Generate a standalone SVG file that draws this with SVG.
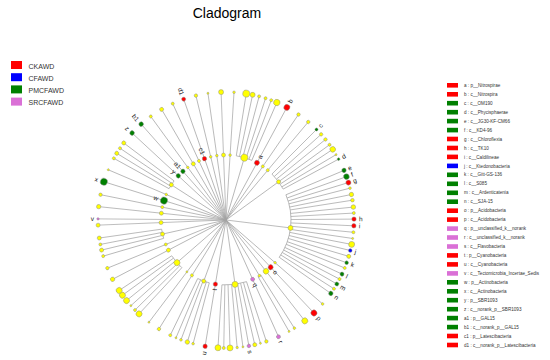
<svg xmlns="http://www.w3.org/2000/svg" width="550" height="360" viewBox="0 0 550 360">
<style>
text{font-family:"Liberation Sans",Arial,sans-serif}
.ln{stroke:#a3a3a3;stroke-width:.7;fill:none}
.Y{fill:#ffff00;stroke:#8a8a8a;stroke-width:.45}
.R{fill:#ff0000;stroke:#8a8a8a;stroke-width:.45}
.G{fill:#008000;stroke:#8a8a8a;stroke-width:.45}
.B{fill:#0000ff;stroke:#8a8a8a;stroke-width:.45}
.P{fill:#da70d6;stroke:#8a8a8a;stroke-width:.45}
.lb{font-size:6.5px;fill:#222}
.lg{font-size:7px;fill:#333}
.lt{font-size:4.6px;fill:#333}
</style>
<rect width="550" height="360" fill="#fff"/>
<text x="227" y="18" font-size="14" text-anchor="middle" fill="#000">Cladogram</text>

<g id="legend-groups">
<rect x="11" y="61" width="11" height="8" fill="#ff0000"/><text class="lg" x="28.5" y="68.5">CKAWD</text>
<rect x="11" y="73.2" width="11" height="8" fill="#0000ff"/><text class="lg" x="28.5" y="80.7">CFAWD</text>
<rect x="11" y="85.4" width="11" height="8" fill="#008000"/><text class="lg" x="28.5" y="92.9">PMCFAWD</text>
<rect x="11" y="97.6" width="11" height="8" fill="#da70d6"/><text class="lg" x="28.5" y="105.1">SRCFAWD</text>
</g>

<g id="legend-taxa">
<rect x="447" y="83" width="11" height="4.6" fill="#ff0000"/><text class="lt" x="464" y="86.9">a : p__Nitrospirae</text>
<rect x="447" y="92" width="11" height="4.6" fill="#ff0000"/><text class="lt" x="464" y="95.9">b : c__Nitrospira</text>
<rect x="447" y="100.9" width="11" height="4.6" fill="#008000"/><text class="lt" x="464" y="104.8">c : c__OM190</text>
<rect x="447" y="109.9" width="11" height="4.6" fill="#008000"/><text class="lt" x="464" y="113.8">d : c__Phycisphaerae</text>
<rect x="447" y="118.8" width="11" height="4.6" fill="#008000"/><text class="lt" x="464" y="122.7">e : c__JG30-KF-CM66</text>
<rect x="447" y="127.8" width="11" height="4.6" fill="#008000"/><text class="lt" x="464" y="131.7">f : c__KD4-96</text>
<rect x="447" y="136.7" width="11" height="4.6" fill="#ff0000"/><text class="lt" x="464" y="140.6">g : c__Chloroflexia</text>
<rect x="447" y="145.7" width="11" height="4.6" fill="#ff0000"/><text class="lt" x="464" y="149.6">h : c__TK10</text>
<rect x="447" y="154.6" width="11" height="4.6" fill="#ff0000"/><text class="lt" x="464" y="158.5">i : c__Caldilineae</text>
<rect x="447" y="163.6" width="11" height="4.6" fill="#0000ff"/><text class="lt" x="464" y="167.5">j : c__Ktedonobacteria</text>
<rect x="447" y="172.5" width="11" height="4.6" fill="#008000"/><text class="lt" x="464" y="176.4">k : c__Gitt-GS-136</text>
<rect x="447" y="181.5" width="11" height="4.6" fill="#008000"/><text class="lt" x="464" y="185.4">l : c__S085</text>
<rect x="447" y="190.5" width="11" height="4.6" fill="#008000"/><text class="lt" x="464" y="194.4">m : c__Ardenticatenia</text>
<rect x="447" y="199.4" width="11" height="4.6" fill="#008000"/><text class="lt" x="464" y="203.3">n : c__SJA-15</text>
<rect x="447" y="208.4" width="11" height="4.6" fill="#ff0000"/><text class="lt" x="464" y="212.3">o : p__Acidobacteria</text>
<rect x="447" y="217.3" width="11" height="4.6" fill="#ff0000"/><text class="lt" x="464" y="221.2">p : c__Acidobacteria</text>
<rect x="447" y="226.3" width="11" height="4.6" fill="#da70d6"/><text class="lt" x="464" y="230.2">q : p__unclassified_k__norank</text>
<rect x="447" y="235.2" width="11" height="4.6" fill="#da70d6"/><text class="lt" x="464" y="239.1">r : c__unclassified_k__norank</text>
<rect x="447" y="244.2" width="11" height="4.6" fill="#da70d6"/><text class="lt" x="464" y="248.1">s : c__Flavobacteria</text>
<rect x="447" y="253.1" width="11" height="4.6" fill="#ff0000"/><text class="lt" x="464" y="257">t : p__Cyanobacteria</text>
<rect x="447" y="262.1" width="11" height="4.6" fill="#ff0000"/><text class="lt" x="464" y="266">u : c__Cyanobacteria</text>
<rect x="447" y="271.1" width="11" height="4.6" fill="#da70d6"/><text class="lt" x="464" y="275">v : c__Tectomicrobia_Incertae_Sedis</text>
<rect x="447" y="280" width="11" height="4.6" fill="#008000"/><text class="lt" x="464" y="283.9">w : p__Actinobacteria</text>
<rect x="447" y="289" width="11" height="4.6" fill="#008000"/><text class="lt" x="464" y="292.9">x : c__Actinobacteria</text>
<rect x="447" y="297.9" width="11" height="4.6" fill="#008000"/><text class="lt" x="464" y="301.8">y : p__SBR1093</text>
<rect x="447" y="306.9" width="11" height="4.6" fill="#008000"/><text class="lt" x="464" y="310.8">z : c__norank_p__SBR1093</text>
<rect x="447" y="315.8" width="11" height="4.6" fill="#008000"/><text class="lt" x="464" y="319.7">a1 : p__GAL15</text>
<rect x="447" y="324.8" width="11" height="4.6" fill="#008000"/><text class="lt" x="464" y="328.7">b1 : c__norank_p__GAL15</text>
<rect x="447" y="333.7" width="11" height="4.6" fill="#ff0000"/><text class="lt" x="464" y="337.6">c1 : p__Latescibacteria</text>
<rect x="447" y="342.7" width="11" height="4.6" fill="#ff0000"/><text class="lt" x="464" y="346.6">d1 : c__norank_p__Latescibacteria</text>
</g>

<g id="connectors" class="ln">
<!-- single-child phyla: straight rays -->
<line x1="226" y1="220" x2="354" y2="220" transform="rotate(-92.2 226 220)"/>
<line x1="226" y1="220" x2="354" y2="220" transform="rotate(-86.4 226 220)"/>
<line x1="226" y1="220" x2="354" y2="220" transform="rotate(-61.6 226 220)"/>
<line x1="226" y1="220" x2="354" y2="220" transform="rotate(-55.5 226 220)"/>
<line x1="226" y1="220" x2="354" y2="220" transform="rotate(-50 226 220)"/>
<line x1="226" y1="220" x2="354" y2="220" transform="rotate(41 226 220)"/>
<line x1="226" y1="220" x2="354" y2="220" transform="rotate(46.6 226 220)"/>
<line x1="226" y1="220" x2="354" y2="220" transform="rotate(52 226 220)"/>
<line x1="226" y1="220" x2="354" y2="220" transform="rotate(65.8 226 220)"/>
<line x1="226" y1="220" x2="354" y2="220" transform="rotate(99.4 226 220)"/>
<line x1="226" y1="220" x2="354" y2="220" transform="rotate(121.6 226 220)"/>
<line x1="226" y1="220" x2="354" y2="220" transform="rotate(127 226 220)"/>
<line x1="226" y1="220" x2="354" y2="220" transform="rotate(152.4 226 220)"/>
<line x1="226" y1="220" x2="354" y2="220" transform="rotate(157.9 226 220)"/>
<line x1="226" y1="220" x2="354" y2="220" transform="rotate(177.7 226 220)"/>
<line x1="226" y1="220" x2="354" y2="220" transform="rotate(-179.5 226 220)"/>
<line x1="226" y1="220" x2="354" y2="220" transform="rotate(-174 226 220)"/>
<line x1="226" y1="220" x2="354" y2="220" transform="rotate(-168.6 226 220)"/>
<line x1="226" y1="220" x2="354" y2="220" transform="rotate(-162.6 226 220)"/>
<line x1="226" y1="220" x2="354" y2="220" transform="rotate(-156.9 226 220)"/>
<line x1="226" y1="220" x2="354" y2="220" transform="rotate(-137.2 226 220)"/>
<line x1="226" y1="220" x2="354" y2="220" transform="rotate(-131.5 226 220)"/>
<line x1="226" y1="220" x2="354" y2="220" transform="rotate(-126 226 220)"/>
<line x1="226" y1="220" x2="354" y2="220" transform="rotate(-120.2 226 220)"/>
<line x1="226" y1="220" x2="354" y2="220" transform="rotate(-114.6 226 220)"/>
<line x1="226" y1="220" x2="354" y2="220" transform="rotate(-109.3 226 220)"/>
<line x1="226" y1="220" x2="354" y2="220" transform="rotate(-103.6 226 220)"/>
<line x1="226" y1="220" x2="354" y2="220" transform="rotate(-98.1 226 220)"/>
<!-- stems of multi-child phyla -->
<line x1="226" y1="220" x2="291" y2="220" transform="rotate(-73.6 226 220)"/>
<line x1="226" y1="220" x2="291" y2="220" transform="rotate(-36 226 220)"/>
<line x1="226" y1="220" x2="291" y2="220" transform="rotate(7 226 220)"/>
<line x1="226" y1="220" x2="291" y2="220" transform="rotate(59 226 220)"/>
<line x1="226" y1="220" x2="291" y2="220" transform="rotate(82 226 220)"/>
<line x1="226" y1="220" x2="291" y2="220" transform="rotate(110 226 220)"/>
<line x1="226" y1="220" x2="291" y2="220" transform="rotate(139 226 220)"/>
<line x1="226" y1="220" x2="291" y2="220" transform="rotate(167.5 226 220)"/>
<line x1="226" y1="220" x2="291" y2="220" transform="rotate(-147.2 226 220)"/>
<!-- arcs -->
<circle cx="226" cy="220" r="65" stroke-dasharray="16.22 500" transform="rotate(-80.9 226 220)"/>
<circle cx="226" cy="220" r="65" stroke-dasharray="18.83 500" transform="rotate(-45 226 220)"/>
<circle cx="226" cy="220" r="65" stroke-dasharray="65.57 500" transform="rotate(-22.8 226 220)"/>
<circle cx="226" cy="220" r="65" stroke-dasharray="3.18 500" transform="rotate(57.7 226 220)"/>
<circle cx="226" cy="220" r="65" stroke-dasharray="24.96 500" transform="rotate(71.6 226 220)"/>
<circle cx="226" cy="220" r="65" stroke-dasharray="12.37 500" transform="rotate(104.9 226 220)"/>
<circle cx="226" cy="220" r="65" stroke-dasharray="15.66 500" transform="rotate(132.8 226 220)"/>
<circle cx="226" cy="220" r="65" stroke-dasharray="9.42 500" transform="rotate(163.6 226 220)"/>
<circle cx="226" cy="220" r="65" stroke-dasharray="9.30 500" transform="rotate(-151.2 226 220)"/>
<!-- child branches -->
<line x1="291" y1="220" x2="354" y2="220" transform="rotate(-80.9 226 220)"/>
<line x1="291" y1="220" x2="354" y2="220" transform="rotate(-78 226 220)"/>
<line x1="291" y1="220" x2="354" y2="220" transform="rotate(-75 226 220)"/>
<line x1="291" y1="220" x2="354" y2="220" transform="rotate(-72 226 220)"/>
<line x1="291" y1="220" x2="354" y2="220" transform="rotate(-69.3 226 220)"/>
<line x1="291" y1="220" x2="354" y2="220" transform="rotate(-66.6 226 220)"/>
<line x1="291" y1="220" x2="354" y2="220" transform="rotate(-45 226 220)"/>
<line x1="291" y1="220" x2="354" y2="220" transform="rotate(-42 226 220)"/>
<line x1="291" y1="220" x2="354" y2="220" transform="rotate(-39 226 220)"/>
<line x1="291" y1="220" x2="354" y2="220" transform="rotate(-36 226 220)"/>
<line x1="291" y1="220" x2="354" y2="220" transform="rotate(-33.5 226 220)"/>
<line x1="291" y1="220" x2="354" y2="220" transform="rotate(-30.7 226 220)"/>
<line x1="291" y1="220" x2="354" y2="220" transform="rotate(-28.4 226 220)"/>
<line x1="291" y1="220" x2="354" y2="220" transform="rotate(-22.8 226 220)"/>
<line x1="291" y1="220" x2="354" y2="220" transform="rotate(-19.8 226 220)"/>
<line x1="291" y1="220" x2="354" y2="220" transform="rotate(-17 226 220)"/>
<line x1="291" y1="220" x2="354" y2="220" transform="rotate(-14.4 226 220)"/>
<line x1="291" y1="220" x2="354" y2="220" transform="rotate(-11.5 226 220)"/>
<line x1="291" y1="220" x2="354" y2="220" transform="rotate(-8.9 226 220)"/>
<line x1="291" y1="220" x2="354" y2="220" transform="rotate(-5.8 226 220)"/>
<line x1="291" y1="220" x2="354" y2="220" transform="rotate(-3.1 226 220)"/>
<line x1="291" y1="220" x2="354" y2="220" transform="rotate(-0.4 226 220)"/>
<line x1="291" y1="220" x2="354" y2="220" transform="rotate(2.6 226 220)"/>
<line x1="291" y1="220" x2="354" y2="220" transform="rotate(5.5 226 220)"/>
<line x1="291" y1="220" x2="354" y2="220" transform="rotate(8.3 226 220)"/>
<line x1="291" y1="220" x2="354" y2="220" transform="rotate(11 226 220)"/>
<line x1="291" y1="220" x2="354" y2="220" transform="rotate(13.8 226 220)"/>
<line x1="291" y1="220" x2="354" y2="220" transform="rotate(16.5 226 220)"/>
<line x1="291" y1="220" x2="354" y2="220" transform="rotate(19.5 226 220)"/>
<line x1="291" y1="220" x2="354" y2="220" transform="rotate(22 226 220)"/>
<line x1="291" y1="220" x2="354" y2="220" transform="rotate(25 226 220)"/>
<line x1="291" y1="220" x2="354" y2="220" transform="rotate(27.5 226 220)"/>
<line x1="291" y1="220" x2="354" y2="220" transform="rotate(30 226 220)"/>
<line x1="291" y1="220" x2="354" y2="220" transform="rotate(32.5 226 220)"/>
<line x1="291" y1="220" x2="354" y2="220" transform="rotate(35 226 220)"/>
<line x1="291" y1="220" x2="354" y2="220" transform="rotate(57.7 226 220)"/>
<line x1="291" y1="220" x2="354" y2="220" transform="rotate(60.5 226 220)"/>
<line x1="291" y1="220" x2="354" y2="220" transform="rotate(71.6 226 220)"/>
<line x1="291" y1="220" x2="354" y2="220" transform="rotate(74.4 226 220)"/>
<line x1="291" y1="220" x2="354" y2="220" transform="rotate(77 226 220)"/>
<line x1="291" y1="220" x2="354" y2="220" transform="rotate(79.7 226 220)"/>
<line x1="291" y1="220" x2="354" y2="220" transform="rotate(82.4 226 220)"/>
<line x1="291" y1="220" x2="354" y2="220" transform="rotate(85 226 220)"/>
<line x1="291" y1="220" x2="354" y2="220" transform="rotate(88.2 226 220)"/>
<line x1="291" y1="220" x2="354" y2="220" transform="rotate(91 226 220)"/>
<line x1="291" y1="220" x2="354" y2="220" transform="rotate(93.6 226 220)"/>
<line x1="291" y1="220" x2="354" y2="220" transform="rotate(104.9 226 220)"/>
<line x1="291" y1="220" x2="354" y2="220" transform="rotate(107.6 226 220)"/>
<line x1="291" y1="220" x2="354" y2="220" transform="rotate(110.6 226 220)"/>
<line x1="291" y1="220" x2="354" y2="220" transform="rotate(113 226 220)"/>
<line x1="291" y1="220" x2="354" y2="220" transform="rotate(115.8 226 220)"/>
<line x1="291" y1="220" x2="354" y2="220" transform="rotate(132.8 226 220)"/>
<line x1="291" y1="220" x2="354" y2="220" transform="rotate(135.3 226 220)"/>
<line x1="291" y1="220" x2="354" y2="220" transform="rotate(138 226 220)"/>
<line x1="291" y1="220" x2="354" y2="220" transform="rotate(141 226 220)"/>
<line x1="291" y1="220" x2="354" y2="220" transform="rotate(144 226 220)"/>
<line x1="291" y1="220" x2="354" y2="220" transform="rotate(146.6 226 220)"/>
<line x1="291" y1="220" x2="354" y2="220" transform="rotate(163.6 226 220)"/>
<line x1="291" y1="220" x2="354" y2="220" transform="rotate(166.4 226 220)"/>
<line x1="291" y1="220" x2="354" y2="220" transform="rotate(169 226 220)"/>
<line x1="291" y1="220" x2="354" y2="220" transform="rotate(171.9 226 220)"/>
<line x1="291" y1="220" x2="354" y2="220" transform="rotate(-151.2 226 220)"/>
<line x1="291" y1="220" x2="354" y2="220" transform="rotate(-148.6 226 220)"/>
<line x1="291" y1="220" x2="354" y2="220" transform="rotate(-145.9 226 220)"/>
<line x1="291" y1="220" x2="354" y2="220" transform="rotate(-143 226 220)"/>
</g>

<g id="inner-nodes">
<g id="p01" transform="rotate(-92.2 226 220)"><circle class="Y" cx="291" cy="220" r="2"/></g>
<g id="p02" transform="rotate(-86.4 226 220)"><circle class="Y" cx="291" cy="220" r="1.3"/></g>
<g id="p03" transform="rotate(-73.6 226 220)"><circle class="Y" cx="291" cy="220" r="3.5"/></g>
<g id="node_a" transform="rotate(-61.6 226 220)"><circle class="R" cx="291" cy="220" r="2.5"/><text class="lb" x="296" y="220" dy=".35em">a</text></g>
<g id="p05" transform="rotate(-55.5 226 220)"><circle class="Y" cx="291" cy="220" r="1.5"/></g>
<g id="p06" transform="rotate(-50 226 220)"><circle class="Y" cx="291" cy="220" r="1.5"/></g>
<g id="p07" transform="rotate(-36 226 220)"><circle class="Y" cx="291" cy="220" r="2"/></g>
<g id="p08" transform="rotate(7 226 220)"><circle class="Y" cx="291" cy="220" r="2.5"/></g>
<g id="p09" transform="rotate(41 226 220)"><circle class="Y" cx="291" cy="220" r="1.3"/></g>
<g id="node_o" transform="rotate(46.6 226 220)"><circle class="R" cx="291" cy="220" r="2.5"/><text class="lb" x="296" y="220" dy=".35em">o</text></g>
<g id="p11" transform="rotate(52 226 220)"><circle class="Y" cx="291" cy="220" r="2.8"/></g>
<g id="p12" transform="rotate(59 226 220)"><circle class="Y" cx="291" cy="220" r="1.3"/></g>
<g id="node_q" transform="rotate(65.8 226 220)"><circle class="P" cx="291" cy="220" r="2"/><text class="lb" x="295.5" y="220" dy=".35em">q</text></g>
<g id="p14" transform="rotate(82 226 220)"><circle class="Y" cx="291" cy="220" r="3"/></g>
<g id="node_t" transform="rotate(99.4 226 220)"><circle class="R" cx="291" cy="220" r="2.2"/><text class="lb" x="295.5" y="220" dy=".35em" text-anchor="end" transform="rotate(180 295.5 220)">t</text></g>
<g id="p16" transform="rotate(110 226 220)"><circle class="Y" cx="291" cy="220" r="2"/></g>
<g id="p17" transform="rotate(121.6 226 220)"><circle class="Y" cx="291" cy="220" r="1.5"/></g>
<g id="p18" transform="rotate(127 226 220)"><circle class="Y" cx="291" cy="220" r="1"/></g>
<g id="p19" transform="rotate(139 226 220)"><circle class="Y" cx="291" cy="220" r="3"/></g>
<g id="p20" transform="rotate(152.4 226 220)"><circle class="Y" cx="291" cy="220" r="2"/></g>
<g id="p21" transform="rotate(157.9 226 220)"><circle class="Y" cx="291" cy="220" r="1.5"/></g>
<g id="p22" transform="rotate(167.5 226 220)"><circle class="Y" cx="291" cy="220" r="2"/></g>
<g id="p23" transform="rotate(177.7 226 220)"><circle class="Y" cx="291" cy="220" r="2"/></g>
<g id="p25" transform="rotate(-174 226 220)"><circle class="Y" cx="291" cy="220" r="2"/></g>
<g id="p26" transform="rotate(-168.6 226 220)"><circle class="Y" cx="291" cy="220" r="1.5"/></g>
<g id="node_w" transform="rotate(-162.6 226 220)"><circle class="G" cx="291" cy="220" r="3.5"/><text class="lb" x="297" y="220" dy=".35em" text-anchor="end" transform="rotate(180 297 220)">w</text></g>
<g id="p28" transform="rotate(-156.9 226 220)"><circle class="Y" cx="291" cy="220" r="1.3"/></g>
<g id="p29" transform="rotate(-147.2 226 220)"><circle class="Y" cx="291" cy="220" r="2"/></g>
<g id="node_y" transform="rotate(-137.2 226 220)"><circle class="G" cx="291" cy="220" r="2.2"/><text class="lb" x="295.5" y="220" dy=".35em" text-anchor="end" transform="rotate(180 295.5 220)">y</text></g>
<g id="node_a1" transform="rotate(-131.5 226 220)"><circle class="G" cx="291" cy="220" r="2.2"/><text class="lb" x="295.5" y="220" dy=".35em" text-anchor="end" transform="rotate(180 295.5 220)">a1</text></g>
<g id="p32" transform="rotate(-126 226 220)"><circle class="Y" cx="291" cy="220" r="1.3"/></g>
<g id="p33" transform="rotate(-120.2 226 220)"><circle class="Y" cx="291" cy="220" r="2"/></g>
<g id="p34" transform="rotate(-114.6 226 220)"><circle class="Y" cx="291" cy="220" r="1.5"/></g>
<g id="node_c1" transform="rotate(-109.3 226 220)"><circle class="R" cx="291" cy="220" r="2.2"/><text class="lb" x="295.5" y="220" dy=".35em" text-anchor="end" transform="rotate(180 295.5 220)">c1</text></g>
<g id="p36" transform="rotate(-103.6 226 220)"><circle class="Y" cx="291" cy="220" r="1.3"/></g>
<g id="p37" transform="rotate(-98.1 226 220)"><circle class="Y" cx="291" cy="220" r="1.3"/></g>
</g>

<g id="leaf-nodes">
<g id="l01" transform="rotate(-92.2 226 220)"><circle class="Y" cx="354" cy="220" r="2.5"/></g>
<g id="l02" transform="rotate(-86.4 226 220)"><circle class="Y" cx="354" cy="220" r="1.3"/></g>
<g id="l03" transform="rotate(-80.9 226 220)"><circle class="Y" cx="354" cy="220" r="3.5"/></g>
<g id="l04" transform="rotate(-78 226 220)"><circle class="Y" cx="354" cy="220" r="2.5"/></g>
<g id="l05" transform="rotate(-75 226 220)"><circle class="Y" cx="354" cy="220" r="1.5"/></g>
<g id="l06" transform="rotate(-72 226 220)"><circle class="Y" cx="354" cy="220" r="1.5"/></g>
<g id="l07" transform="rotate(-69.3 226 220)"><circle class="Y" cx="354" cy="220" r="1.5"/></g>
<g id="l08" transform="rotate(-66.6 226 220)"><circle class="Y" cx="354" cy="220" r="3.2"/></g>
<g id="node_b" transform="rotate(-61.6 226 220)"><circle class="R" cx="354" cy="220" r="3"/><text class="lb" x="359.5" y="220" dy=".35em">b</text></g>
<g id="l10" transform="rotate(-55.5 226 220)"><circle class="Y" cx="354" cy="220" r="1.7"/></g>
<g id="l11" transform="rotate(-50 226 220)"><circle class="Y" cx="354" cy="220" r="1.7"/></g>
<g id="node_c" transform="rotate(-45 226 220)"><circle class="G" cx="354" cy="220" r="1.5"/><text class="lb" x="358" y="220" dy=".35em">c</text></g>
<g id="l13" transform="rotate(-42 226 220)"><circle class="Y" cx="354" cy="220" r="1.7"/></g>
<g id="l14" transform="rotate(-39 226 220)"><circle class="Y" cx="354" cy="220" r="1.7"/></g>
<g id="l15" transform="rotate(-36 226 220)"><circle class="Y" cx="354" cy="220" r="1.5"/></g>
<g id="l16" transform="rotate(-33.5 226 220)"><circle class="Y" cx="354" cy="220" r="2.8"/></g>
<g id="l17" transform="rotate(-30.7 226 220)"><circle class="Y" cx="354" cy="220" r="1"/></g>
<g id="node_d" transform="rotate(-28.4 226 220)"><circle class="G" cx="354" cy="220" r="1.3"/><text class="lb" x="358" y="220" dy=".35em">d</text></g>
<g id="node_e" transform="rotate(-22.8 226 220)"><circle class="G" cx="354" cy="220" r="2.2"/><text class="lb" x="358.5" y="220" dy=".35em">e</text></g>
<g id="node_f" transform="rotate(-19.8 226 220)"><circle class="G" cx="354" cy="220" r="2.8"/><text class="lb" x="359" y="220" dy=".35em">f</text></g>
<g id="node_g" transform="rotate(-17 226 220)"><circle class="R" cx="354" cy="220" r="2.5"/><text class="lb" x="359" y="220" dy=".35em">g</text></g>
<g id="l22" transform="rotate(-14.4 226 220)"><circle class="Y" cx="354" cy="220" r="1.3"/></g>
<g id="l23" transform="rotate(-11.5 226 220)"><circle class="Y" cx="354" cy="220" r="2.2"/></g>
<g id="l24" transform="rotate(-8.9 226 220)"><circle class="Y" cx="354" cy="220" r="1.8"/></g>
<g id="l25" transform="rotate(-5.8 226 220)"><circle class="Y" cx="354" cy="220" r="2.3"/></g>
<g id="l26" transform="rotate(-3.1 226 220)"><circle class="Y" cx="354" cy="220" r="1.5"/></g>
<g id="node_h" transform="rotate(-0.4 226 220)"><circle class="R" cx="354" cy="220" r="2.2"/><text class="lb" x="359" y="220" dy=".35em">h</text></g>
<g id="node_i" transform="rotate(2.6 226 220)"><circle class="R" cx="354" cy="220" r="2.2"/><text class="lb" x="359" y="220" dy=".35em">i</text></g>
<g id="l29" transform="rotate(5.5 226 220)"><circle class="Y" cx="354" cy="220" r="1.5"/></g>
<g id="l30" transform="rotate(8.3 226 220)"><circle class="Y" cx="354" cy="220" r="1"/></g>
<g id="l31" transform="rotate(11 226 220)"><circle class="Y" cx="354" cy="220" r="3"/></g>
<g id="node_j" transform="rotate(13.8 226 220)"><circle class="B" cx="354" cy="220" r="1.8"/><text class="lb" x="358.5" y="220" dy=".35em">j</text></g>
<g id="l33" transform="rotate(16.5 226 220)"><circle class="Y" cx="354" cy="220" r="2"/></g>
<g id="node_k" transform="rotate(19.5 226 220)"><circle class="G" cx="354" cy="220" r="1.8"/><text class="lb" x="358.5" y="220" dy=".35em">k</text></g>
<g id="l35" transform="rotate(22 226 220)"><circle class="Y" cx="354" cy="220" r="1.5"/></g>
<g id="node_l" transform="rotate(25 226 220)"><circle class="G" cx="354" cy="220" r="2"/><text class="lb" x="358.5" y="220" dy=".35em">l</text></g>
<g id="l37" transform="rotate(27.5 226 220)"><circle class="Y" cx="354" cy="220" r="1.5"/></g>
<g id="node_m" transform="rotate(30 226 220)"><circle class="G" cx="354" cy="220" r="2"/><text class="lb" x="358.5" y="220" dy=".35em">m</text></g>
<g id="l39" transform="rotate(32.5 226 220)"><circle class="Y" cx="354" cy="220" r="1.5"/></g>
<g id="node_n" transform="rotate(35 226 220)"><circle class="G" cx="354" cy="220" r="2.2"/><text class="lb" x="359" y="220" dy=".35em">n</text></g>
<g id="l41" transform="rotate(41 226 220)"><circle class="Y" cx="354" cy="220" r="1.3"/></g>
<g id="node_p" transform="rotate(46.6 226 220)"><circle class="R" cx="354" cy="220" r="3"/><text class="lb" x="359.5" y="220" dy=".35em">p</text></g>
<g id="l43" transform="rotate(52 226 220)"><circle class="Y" cx="354" cy="220" r="3"/></g>
<g id="l44" transform="rotate(57.7 226 220)"><circle class="Y" cx="354" cy="220" r="1.3"/></g>
<g id="l45" transform="rotate(60.5 226 220)"><circle class="Y" cx="354" cy="220" r="1"/></g>
<g id="node_r" transform="rotate(65.8 226 220)"><circle class="P" cx="354" cy="220" r="2"/><text class="lb" x="358.5" y="220" dy=".35em">r</text></g>
<g id="l47" transform="rotate(71.6 226 220)"><circle class="Y" cx="354" cy="220" r="1.7"/></g>
<g id="l48" transform="rotate(74.4 226 220)"><circle class="Y" cx="354" cy="220" r="1"/></g>
<g id="l49" transform="rotate(77 226 220)"><circle class="Y" cx="354" cy="220" r="2"/></g>
<g id="node_s" transform="rotate(79.7 226 220)"><circle class="P" cx="354" cy="220" r="1.8"/><text class="lb" x="358.5" y="220" dy=".35em">s</text></g>
<g id="l51" transform="rotate(82.4 226 220)"><circle class="Y" cx="354" cy="220" r="1"/></g>
<g id="l52" transform="rotate(85 226 220)"><circle class="Y" cx="354" cy="220" r="1.2"/></g>
<g id="l53" transform="rotate(88.2 226 220)"><circle class="Y" cx="354" cy="220" r="3"/></g>
<g id="l54" transform="rotate(91 226 220)"><circle class="Y" cx="354" cy="220" r="1.5"/></g>
<g id="l55" transform="rotate(93.6 226 220)"><circle class="Y" cx="354" cy="220" r="3"/></g>
<g id="node_u" transform="rotate(99.4 226 220)"><circle class="R" cx="354" cy="220" r="2.2"/><text class="lb" x="359" y="220" dy=".35em" text-anchor="end" transform="rotate(180 359 220)">u</text></g>
<g id="l57" transform="rotate(104.9 226 220)"><circle class="Y" cx="354" cy="220" r="1.3"/></g>
<g id="l58" transform="rotate(107.6 226 220)"><circle class="Y" cx="354" cy="220" r="2.2"/></g>
<g id="l59" transform="rotate(110.6 226 220)"><circle class="Y" cx="354" cy="220" r="1.3"/></g>
<g id="l60" transform="rotate(113 226 220)"><circle class="Y" cx="354" cy="220" r="1"/></g>
<g id="l61" transform="rotate(115.8 226 220)"><circle class="Y" cx="354" cy="220" r="1.5"/></g>
<g id="l62" transform="rotate(121.6 226 220)"><circle class="Y" cx="354" cy="220" r="1.7"/></g>
<g id="l63" transform="rotate(127 226 220)"><circle class="Y" cx="354" cy="220" r="1"/></g>
<g id="l64" transform="rotate(132.8 226 220)"><circle class="Y" cx="354" cy="220" r="3"/></g>
<g id="l65" transform="rotate(135.3 226 220)"><circle class="Y" cx="354" cy="220" r="1.5"/></g>
<g id="l66" transform="rotate(138 226 220)"><circle class="Y" cx="354" cy="220" r="1"/></g>
<g id="l67" transform="rotate(141 226 220)"><circle class="Y" cx="354" cy="220" r="3"/></g>
<g id="l68" transform="rotate(144 226 220)"><circle class="Y" cx="354" cy="220" r="3"/></g>
<g id="l69" transform="rotate(146.6 226 220)"><circle class="Y" cx="354" cy="220" r="3"/></g>
<g id="l70" transform="rotate(152.4 226 220)"><circle class="Y" cx="354" cy="220" r="2.2"/></g>
<g id="l71" transform="rotate(157.9 226 220)"><circle class="Y" cx="354" cy="220" r="1.7"/></g>
<g id="l72" transform="rotate(163.6 226 220)"><circle class="Y" cx="354" cy="220" r="1.5"/></g>
<g id="l73" transform="rotate(166.4 226 220)"><circle class="Y" cx="354" cy="220" r="2"/></g>
<g id="l74" transform="rotate(169 226 220)"><circle class="Y" cx="354" cy="220" r="1.5"/></g>
<g id="l75" transform="rotate(171.9 226 220)"><circle class="Y" cx="354" cy="220" r="2"/></g>
<g id="l76" transform="rotate(177.7 226 220)"><circle class="Y" cx="354" cy="220" r="2"/></g>
<g id="node_v" transform="rotate(-179.5 226 220)"><circle class="P" cx="354" cy="220" r="1.2"/><text class="lb" x="358" y="220" dy=".35em" text-anchor="end" transform="rotate(180 358 220)">v</text></g>
<g id="l78" transform="rotate(-174 226 220)"><circle class="Y" cx="354" cy="220" r="2.2"/></g>
<g id="l79" transform="rotate(-168.6 226 220)"><circle class="Y" cx="354" cy="220" r="1.7"/></g>
<g id="node_x" transform="rotate(-162.6 226 220)"><circle class="G" cx="354" cy="220" r="3.5"/><text class="lb" x="360" y="220" dy=".35em" text-anchor="end" transform="rotate(180 360 220)">x</text></g>
<g id="l81" transform="rotate(-156.9 226 220)"><circle class="Y" cx="354" cy="220" r="1"/></g>
<g id="l82" transform="rotate(-151.2 226 220)"><circle class="Y" cx="354" cy="220" r="1.5"/></g>
<g id="l83" transform="rotate(-148.6 226 220)"><circle class="Y" cx="354" cy="220" r="2"/></g>
<g id="l84" transform="rotate(-145.9 226 220)"><circle class="Y" cx="354" cy="220" r="1.5"/></g>
<g id="l85" transform="rotate(-143 226 220)"><circle class="Y" cx="354" cy="220" r="2"/></g>
<g id="node_z" transform="rotate(-137.2 226 220)"><circle class="G" cx="354" cy="220" r="2.3"/><text class="lb" x="359" y="220" dy=".35em" text-anchor="end" transform="rotate(180 359 220)">z</text></g>
<g id="node_b1" transform="rotate(-131.5 226 220)"><circle class="G" cx="354" cy="220" r="2.3"/><text class="lb" x="359" y="220" dy=".35em" text-anchor="end" transform="rotate(180 359 220)">b1</text></g>
<g id="l88" transform="rotate(-126 226 220)"><circle class="Y" cx="354" cy="220" r="1.5"/></g>
<g id="l89" transform="rotate(-120.2 226 220)"><circle class="Y" cx="354" cy="220" r="2"/></g>
<g id="l90" transform="rotate(-114.6 226 220)"><circle class="Y" cx="354" cy="220" r="1.5"/></g>
<g id="node_d1" transform="rotate(-109.3 226 220)"><circle class="R" cx="354" cy="220" r="2"/><text class="lb" x="358.5" y="220" dy=".35em" text-anchor="end" transform="rotate(180 358.5 220)">d1</text></g>
<g id="l92" transform="rotate(-103.6 226 220)"><circle class="Y" cx="354" cy="220" r="1.7"/></g>
<g id="l93" transform="rotate(-98.1 226 220)"><circle class="Y" cx="354" cy="220" r="1"/></g>
</g>
</svg>
